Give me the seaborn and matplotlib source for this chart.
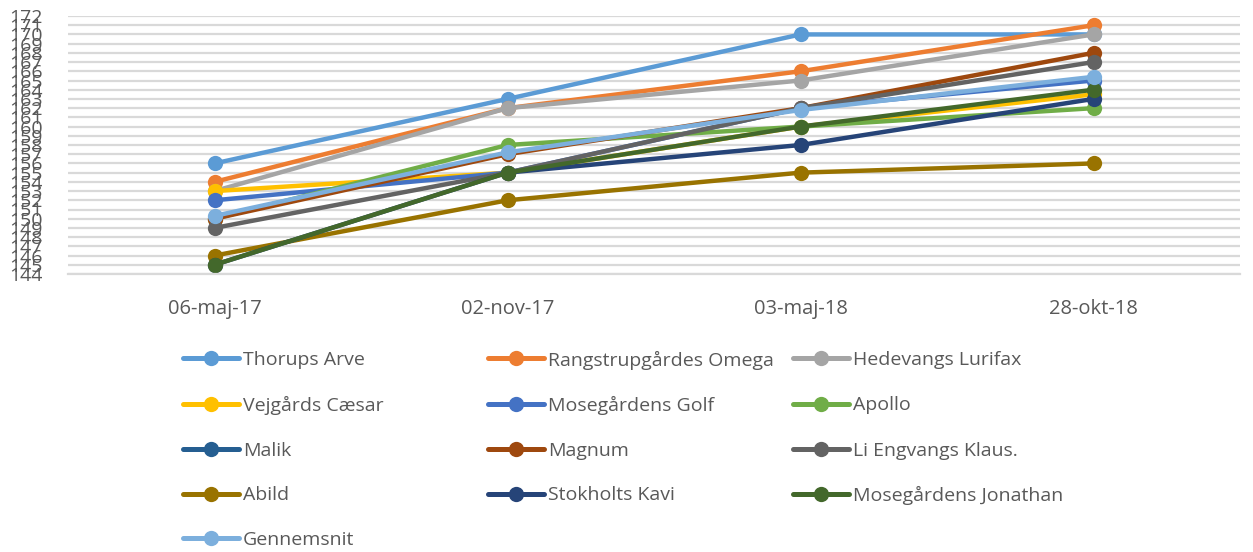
import matplotlib
matplotlib.use("Agg")
import matplotlib.pyplot as plt
import seaborn as sns
import pandas as pd
import numpy as np
from matplotlib.lines import Line2D

dates = ["06-maj-17", "02-nov-17", "03-maj-18", "28-okt-18"]

names = ["Thorups Arve", "Rangstrupgårdes Omega", "Hedevangs Lurifax",
         "Vejgårds Cæsar", "Mosegårdens Golf", "Apollo",
         "Malik", "Magnum", "Li Engvangs Klaus.",
         "Abild", "Stokholts Kavi", "Mosegårdens Jonathan",
         "Gennemsnit"]

thorups_arve = [156, 163, 170, 170]
rangstrup_omega = [154, 162, 166, 171]
hedevangs_lurifax = [153, 162, 165, 170]
vejgaards_caesar = [153, 155, 160, 163.5]
mosegaardens_golf = [152, 155, 162, 165]
apollo = [150, 158, 160, 162]
malik = [np.nan, np.nan, np.nan, np.nan]
magnum = [150, 157, 162, 168]
li_engvangs = [149, 155, 162, 167]
abild = [146, 152, 155, 156]
stokholts_kavi = [145, 155, 158, 163]
mosegaardens_jonathan = [145, 155, 160, 164]
gennemsnit = [150.3, 157.2, 161.8, 165.4]

series = [thorups_arve, rangstrup_omega, hedevangs_lurifax, vejgaards_caesar,
          mosegaardens_golf, apollo, malik, magnum, li_engvangs, abild,
          stokholts_kavi, mosegaardens_jonathan, gennemsnit]

colors = ["#5B9BD5", "#ED7D31", "#A5A5A5", "#FFC000", "#4472C4", "#70AD47",
          "#255E91", "#9E480E", "#636363", "#997300", "#264478", "#43682B",
          "#7CAFDD"]

rows = []
for n, vals in zip(names, series):
    for i, (d, v) in enumerate(zip(dates, vals)):
        rows.append({"dog": n, "date": d, "pos": i, "value": v})
df = pd.DataFrame(rows)

sns.set_theme(style="white")
plt.rcParams["font.family"] = ["Open Sans", "DejaVu Sans"]
text_color = "#595959"

W, H = 1253, 552
fig = plt.figure(figsize=(W / 100, H / 100), dpi=100)
ax = fig.add_axes([68 / W, 1 - 274 / H, (1240 - 68) / W, (274 - 16) / H])

palette = dict(zip(names, colors))
plot_df = df.dropna(subset=["value"])
sns.lineplot(data=plot_df, x="pos", y="value", hue="dog", hue_order=names,
             palette=palette, marker="o", markersize=11, linewidth=3.2,
             markeredgewidth=0, sort=False, legend=False, ax=ax)

ax.set_xlim(-0.5, len(dates) - 0.5)
ax.set_ylim(144, 172)
ax.set_xticks(range(len(dates)))
ax.set_xticklabels(dates)
ax.set_yticks(np.arange(144, 173, 1))
ax.set_xlabel("")
ax.set_ylabel("")
ax.yaxis.grid(True, color="#D9D9D9", linewidth=1.6)
ax.set_axisbelow(True)
for s in ["top", "right", "left"]:
    ax.spines[s].set_visible(False)
ax.spines["bottom"].set_color("#D9D9D9")
ax.spines["bottom"].set_linewidth(1.6)
ax.tick_params(axis="y", length=0, pad=18, labelsize=14, labelcolor=text_color)
ax.tick_params(axis="x", length=0, pad=18, labelsize=14.5, labelcolor=text_color)

# legend: three columns, row-major, drawn at fixed figure positions
col_x = [183, 488, 793]
row_y = [358, 403.5, 448.5, 493.5, 538]
for i, (n, c) in enumerate(zip(names, colors)):
    x0 = col_x[i % 3]
    y0 = row_y[i // 3]
    xs = [x0 / W, (x0 + 28) / W, (x0 + 56) / W]
    ys = [1 - y0 / H] * 3
    fig.add_artist(Line2D(xs, ys, transform=fig.transFigure, color=c,
                          linewidth=3.6, marker="o", markersize=11,
                          markeredgewidth=0, markevery=[1],
                          solid_capstyle="round"))
    fig.text((x0 + 60) / W, 1 - y0 / H, n, ha="left", va="center_baseline",
             fontsize=14, color=text_color)

fig.savefig("out.png", dpi=100)
